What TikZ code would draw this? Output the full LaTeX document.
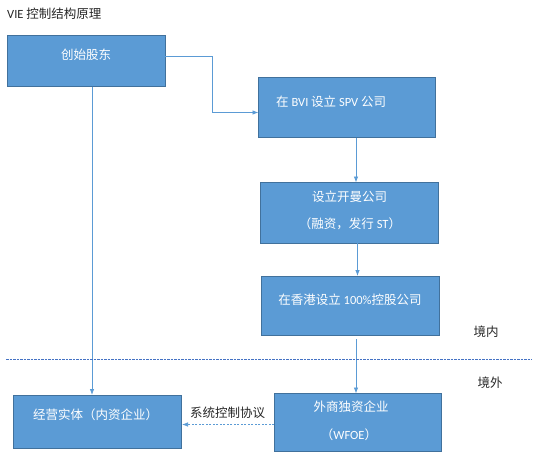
\documentclass[tikz,border=0pt]{standalone}
\usepackage{fontspec}
\setmainfont{Carlito}
\newfontfamily\cjk{Noto Sans CJK SC}
\usetikzlibrary{arrows.meta}
\definecolor{boxfill}{HTML}{5B9BD5}
\definecolor{boxline}{HTML}{41719C}
\definecolor{arrowc}{HTML}{5B9BD5}
\definecolor{sepline}{HTML}{4472C4}
\definecolor{txt}{HTML}{262626}
\tikzset{
  stepbox/.style={draw=boxline, fill=boxfill, line width=0.9pt},
  boxtext/.style={text=white, font=\fontsize{12.5}{14}\selectfont, inner sep=0pt},
  plaintext/.style={text=txt, font=\fontsize{12.5}{14}\selectfont, inner sep=0pt},
  conn/.style={draw=arrowc, line width=0.8pt, -{Latex[length=6pt,width=4.5pt]}},
}
\begin{document}
\begin{tikzpicture}[x=1pt,y=-1pt]
\useasboundingbox (0,0) rectangle (536,472);
% title
\node[plaintext, anchor=west] (title) at (7,14) {VIE {\cjk 控制结构原理}};
% boxes
\draw[stepbox] (7,35) rectangle (165,86.5);
\node[boxtext] (t1) at (86,55) {\cjk 创始股东};

\draw[stepbox] (258.5,77.5) rectangle (435.5,137.5);
\node[boxtext, anchor=west] (t2) at (276,101.5) {{\cjk 在} BVI {\cjk 设立} SPV {\cjk 公司}};

\draw[stepbox] (260.5,182.5) rectangle (438.5,243);
\node[boxtext] (t3a) at (349.5,196.5) {\cjk 设立开曼公司};
\node[boxtext] (t3b) at (350,224) {{\cjk （融资，发行} ST{\cjk ）}};

\draw[stepbox] (261.5,276) rectangle (439.5,335.5);
\node[boxtext] (t4) at (350,300) {{\cjk 在香港设立} 100\%{\cjk 控股公司}};

\draw[stepbox] (274,393.5) rectangle (441,451);
\node[boxtext] (t5a) at (351,406.5) {\cjk 外商独资企业};
\node[boxtext] (t5b) at (349,435) {{\cjk （}WFOE{\cjk ）}};

\draw[stepbox] (13.5,395) rectangle (181.5,448.5);
\node[boxtext, anchor=west] (t6) at (33,415) {\cjk 经营实体（内资企业）};

% anchor coordinates for connectors
\coordinate (b1r) at (165,56.5);
\coordinate (b2l) at (258.5,112.5);
\coordinate (b2b) at (356,137.5);
\coordinate (b3t) at (356,182.5);
\coordinate (b3b) at (357.5,243);
\coordinate (b4t) at (357.5,276);
\coordinate (b4b) at (356,339);
\coordinate (b5t) at (356,393.5);
\coordinate (b1b) at (92,86.5);
\coordinate (b6t) at (92,395);
\coordinate (b5l) at (274,424.5);
\coordinate (b6r) at (182,424.5);

% connectors
\draw[conn] (b1r) -| (212,112.5) -- (b2l);
\draw[conn] (b2b) -- (b3t);
\draw[conn] (b3b) -- (b4t);
\draw[conn] (b4b) -- (b5t);
\draw[conn] (b1b) -- (b6t);
\draw[conn, dash pattern=on 2pt off 1.5pt, line width=0.7pt] (b5l) -- (b6r);
\node[plaintext] (lbl) at (227.5,413) {\cjk 系统控制协议};

% separator
\coordinate (s1) at (6,359.3);
\coordinate (s2) at (532,359.3);
\draw[draw=sepline, line width=0.8pt, dash pattern=on 2.5pt off 1pt] (s1) -- (s2);
\node[plaintext] (in) at (486,331.5) {\cjk 境内};
\node[plaintext] (out) at (490,383) {\cjk 境外};
\end{tikzpicture}
\end{document}
